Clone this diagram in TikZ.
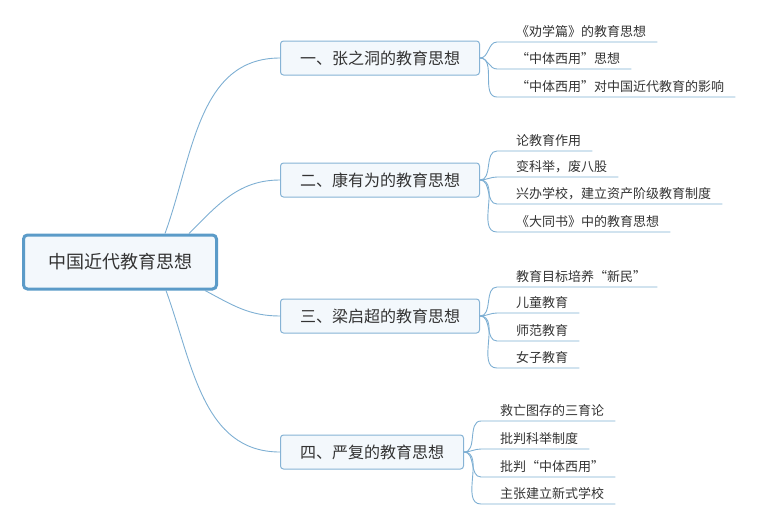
\documentclass[tikz,border=0pt]{standalone}
\usepackage{fontspec}
\usepackage{xcolor}
\newfontfamily\cjk{Noto Sans CJK SC}
\definecolor{rootblue}{HTML}{5B9BC8}
\definecolor{topicblue}{HTML}{86B3D5}
\definecolor{linkblue}{HTML}{7EAFD3}
\definecolor{boxfill}{HTML}{F3F8FC}
\definecolor{textgray}{HTML}{333333}

\begin{document}
\begin{tikzpicture}[x=1pt,y=1pt,
  rootbox/.style={draw=rootblue, line width=3pt, fill=boxfill, rounded corners=4pt,
    minimum width=193pt, minimum height=54pt, text=textgray,
    font=\cjk\fontsize{18}{20}\selectfont},
  topicbox/.style={draw=topicblue, line width=1pt, fill=boxfill, rounded corners=3pt,
    minimum height=34pt, inner xsep=19.5pt, anchor=west, text=textgray,
    font=\cjk\fontsize{16}{18}\selectfont},
  leaf/.style={inner sep=0pt, anchor=base west, text=textgray,
    font=\cjk\fontsize{13}{15}\selectfont},
  link/.style={draw=linkblue, line width=0.9pt}]

\useasboundingbox (0,0) rectangle (759,-525); % page size of the reference

% Central topic
\node[rootbox] (root) at (120,-262) {中国近代教育思想};

% Main topics
\node[topicbox] (zhang) at (280,-58) {一、张之洞的教育思想};
\node[topicbox] (kang) at (280,-180) {二、康有为的教育思想};
\node[topicbox] (liang) at (280,-316) {三、梁启超的教育思想};
\node[topicbox] (yan) at (280,-452) {四、严复的教育思想};

% Root to main topics
\draw[link] ([xshift=45pt]root.north) to[out=70,in=180] (zhang.west);
\draw[link] ([xshift=69pt]root.north) to[out=45,in=180] (kang.west);
\draw[link] ([xshift=85pt]root.south) to[out=-28,in=180] (liang.west);
\draw[link] ([xshift=46pt]root.south) to[out=-70,in=180] (yan.west);

% Subtopics of Zhang Zhidong
\node[leaf] (zhang1) at (516,-36) {《劝学篇》的教育思想};
\node[leaf] (zhang2) at (516,-63) {“中体西用”思想};
\node[leaf] (zhang3) at (516,-91) {“中体西用”对中国近代教育的影响};

% Subtopics of Kang Youwei
\node[leaf] (kang1) at (516,-145) {论教育作用};
\node[leaf] (kang2) at (516,-171) {变科举，废八股};
\node[leaf] (kang3) at (516,-198) {兴办学校，建立资产阶级教育制度};
\node[leaf] (kang4) at (516,-226) {《大同书》中的教育思想};

% Subtopics of Liang Qichao
\node[leaf] (liang1) at (516,-281) {教育目标培养“新民”};
\node[leaf] (liang2) at (516,-307) {儿童教育};
\node[leaf] (liang3) at (516,-335) {师范教育};
\node[leaf] (liang4) at (516,-362) {女子教育};

% Subtopics of Yan Fu
\node[leaf] (yan1) at (500,-415) {救亡图存的三育论};
\node[leaf] (yan2) at (500,-443) {批判科举制度};
\node[leaf] (yan3) at (500,-471) {批判“中体西用”};
\node[leaf] (yan4) at (500,-498) {主张建立新式学校};

% Main topics to subtopics, each ending in an underline
\draw[link] (zhang.east) to[out=0,in=180] ([xshift=-19pt,yshift=-6pt]zhang1.base west) -- ([xshift=11pt,yshift=-6pt]zhang1.base east);
\draw[link] (zhang.east) to[out=0,in=180] ([xshift=-19pt,yshift=-6pt]zhang2.base west) -- ([xshift=11pt,yshift=-6pt]zhang2.base east);
\draw[link] (zhang.east) to[out=0,in=180] ([xshift=-19pt,yshift=-6pt]zhang3.base west) -- ([xshift=11pt,yshift=-6pt]zhang3.base east);

\draw[link] (kang.east) to[out=0,in=180] ([xshift=-19pt,yshift=-6pt]kang1.base west) -- ([xshift=11pt,yshift=-6pt]kang1.base east);
\draw[link] (kang.east) to[out=0,in=180] ([xshift=-19pt,yshift=-6pt]kang2.base west) -- ([xshift=11pt,yshift=-6pt]kang2.base east);
\draw[link] (kang.east) to[out=0,in=180] ([xshift=-19pt,yshift=-6pt]kang3.base west) -- ([xshift=11pt,yshift=-6pt]kang3.base east);
\draw[link] (kang.east) to[out=0,in=180] ([xshift=-19pt,yshift=-6pt]kang4.base west) -- ([xshift=11pt,yshift=-6pt]kang4.base east);

\draw[link] (liang.east) to[out=0,in=180] ([xshift=-19pt,yshift=-6pt]liang1.base west) -- ([xshift=11pt,yshift=-6pt]liang1.base east);
\draw[link] (liang.east) to[out=0,in=180] ([xshift=-19pt,yshift=-6pt]liang2.base west) -- ([xshift=11pt,yshift=-6pt]liang2.base east);
\draw[link] (liang.east) to[out=0,in=180] ([xshift=-19pt,yshift=-6pt]liang3.base west) -- ([xshift=11pt,yshift=-6pt]liang3.base east);
\draw[link] (liang.east) to[out=0,in=180] ([xshift=-19pt,yshift=-6pt]liang4.base west) -- ([xshift=11pt,yshift=-6pt]liang4.base east);

\draw[link] (yan.east) to[out=0,in=180] ([xshift=-19pt,yshift=-6pt]yan1.base west) -- ([xshift=11pt,yshift=-6pt]yan1.base east);
\draw[link] (yan.east) to[out=0,in=180] ([xshift=-19pt,yshift=-6pt]yan2.base west) -- ([xshift=11pt,yshift=-6pt]yan2.base east);
\draw[link] (yan.east) to[out=0,in=180] ([xshift=-19pt,yshift=-6pt]yan3.base west) -- ([xshift=11pt,yshift=-6pt]yan3.base east);
\draw[link] (yan.east) to[out=0,in=180] ([xshift=-19pt,yshift=-6pt]yan4.base west) -- ([xshift=11pt,yshift=-6pt]yan4.base east);

\end{tikzpicture}
\end{document}
